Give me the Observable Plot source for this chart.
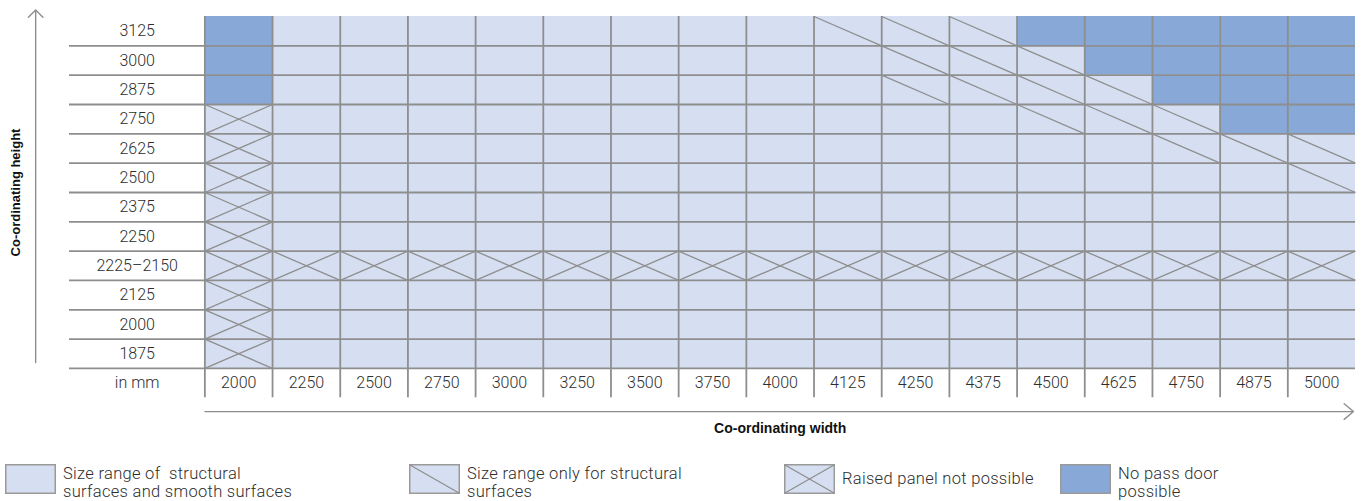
<!DOCTYPE html>
<html>
<head>
<meta charset="utf-8">
<script src="https://cdn.jsdelivr.net/npm/d3@7"></script>
<script src="https://cdn.jsdelivr.net/npm/@observablehq/plot@0.6"></script>
<style>
  html, body { margin: 0; padding: 0; background: #fff; }
  #wrap { width: 1361px; height: 501px; position: relative; overflow: hidden; }
  #legend { position: absolute; left: 0; top: 0; width: 1361px; height: 501px; pointer-events: none; }
  .sw { position: absolute; }
  .lab { position: absolute; font-family: Roboto, "Open Sans", sans-serif; font-weight: 300; font-size: 16.5px; letter-spacing: 0.3px; line-height: 18px; color: #2e2e2e; white-space: pre; }
</style>
</head>
<body>
<div id="wrap"><div id="chart"></div><div id="legend"></div></div>
<script>
// ---- data ----
const columns = ["2000","2250","2500","2750","3000","3250","3500","3750","4000","4125","4250","4375","4500","4625","4750","4875","5000"];
const rows = ["3125","3000","2875","2750","2625","2500","2375","2250","2225–2150","2125","2000","1875"];
const cornerLabel = "in mm";
const xTitle = "Co-ordinating width";
const yTitle = "Co-ordinating height";

// cells where no pass door is possible
const noPassDoorCells = [
  ["2000","3125"],["2000","3000"],["2000","2875"],
  ["4500","3125"],
  ["4625","3125"],["4625","3000"],
  ["4750","3125"],["4750","3000"],["4750","2875"],
  ["4875","3125"],["4875","3000"],["4875","2875"],["4875","2750"],
  ["5000","3125"],["5000","3000"],["5000","2875"],["5000","2750"]
];
// raised panel not possible: width 2000 for these heights, and the whole 2225–2150 row
const raisedPanelColumn2000 = ["2750","2625","2500","2375","2250","2225–2150","2125","2000","1875"];
const raisedPanelRow = "2225–2150";
// size range only for structural surfaces
const structuralOnlyCells = [
  ["4125","3125"],["4250","3125"],["4375","3125"],
  ["4250","3000"],["4375","3000"],["4500","3000"],
  ["4250","2875"],["4375","2875"],["4500","2875"],["4625","2875"],
  ["4500","2750"],["4625","2750"],["4750","2750"],
  ["4750","2625"],["4875","2625"],["5000","2625"],
  ["5000","2500"]
];

const legendLabels = [
  "Size range of  structural\nsurfaces and smooth surfaces",
  "Size range only for structural\nsurfaces",
  "Raised panel not possible",
  "No pass door\npossible"
];

// ---- styles ----
const LIGHT = "#d6dff2";
const DARK = "#88a8d8";
const GRID = "#8e8e8e";
const TEXT = "#2e2e2e";
const FONT = "Roboto, 'Open Sans', sans-serif";

// ---- derived tables ----
const ci = c => columns.indexOf(c);
const ri = r => rows.indexOf(r);
const darkSet = new Set(noPassDoorCells.map(d => d.join("|")));
const cells = [];
rows.forEach((r, j) => columns.forEach((c, i) => cells.push({i, j, dark: darkSet.has(c + "|" + r)})));

const raisedSet = new Set();
raisedPanelColumn2000.forEach(r => raisedSet.add("2000|" + r));
columns.forEach(c => raisedSet.add(c + "|" + raisedPanelRow));
const raised = [...raisedSet].map(k => { const [c, r] = k.split("|"); return {i: ci(c), j: ri(r)}; });
const crossLinks = raised.flatMap(d => [
  {x1: d.i, y1: d.j, x2: d.i + 1, y2: d.j + 1},
  {x1: d.i, y1: d.j + 1, x2: d.i + 1, y2: d.j}
]);
const structLinks = structuralOnlyCells.map(([c, r]) => ({x1: ci(c), y1: ri(r), x2: ci(c) + 1, y2: ri(r) + 1}));

const nC = columns.length, nR = rows.length;
const hLines = d3.range(1, nR + 1).map(j => ({x1: -2, x2: nC, y: j}));
const vLines = d3.range(0, nC).map(i => ({x: i, y1: 0, y2: nR + 1}));

const tickStyle = {fontSize: 16, fontWeight: 300, fontFamily: FONT, fill: TEXT, letterSpacing: "0.3px"};

const chart = Plot.plot({
  width: 1361,
  height: 450,
  marginTop: 0, marginBottom: 0, marginLeft: 0, marginRight: 0,
  x: {domain: [-2, nC], range: [69, 1355], axis: null},
  y: {domain: [0, nR + 1], range: [16, 16 + 29.33 * (nR + 1)], axis: null},
  style: {background: "transparent", overflow: "visible"},
  marks: [
    Plot.rect(cells, {x1: "i", x2: d => d.i + 1, y1: "j", y2: d => d.j + 1, fill: d => d.dark ? DARK : LIGHT, inset: 0}),
    Plot.link(crossLinks, {x1: "x1", y1: "y1", x2: "x2", y2: "y2", stroke: GRID, strokeWidth: 1.3}),
    Plot.link(structLinks, {x1: "x1", y1: "y1", x2: "x2", y2: "y2", stroke: GRID, strokeWidth: 1.3}),
    Plot.ruleY(hLines, {y: "y", x1: "x1", x2: "x2", stroke: GRID, strokeWidth: 1.8}),
    Plot.ruleX(vLines, {x: "x", y1: "y1", y2: "y2", stroke: GRID, strokeWidth: 1.8}),
    Plot.text(rows, {x: () => -1, y: (d, j) => j + 0.5, text: d => d, ...tickStyle}),
    Plot.text(columns, {x: (d, i) => i + 0.5, y: () => nR + 0.5, text: d => d, ...tickStyle}),
    Plot.text([cornerLabel], {x: () => -1, y: () => nR + 0.5, text: d => d, ...tickStyle}),
    Plot.arrow([0], {x1: () => -2.5, y1: () => 11.8, x2: () => -2.5, y2: () => -0.22, stroke: "#8e8e8e", strokeWidth: 1.4, headLength: 11, headAngle: 90}),
    Plot.arrow([0], {x1: () => 0, y1: () => nR + 1.47, x2: () => nC - 0.03, y2: () => nR + 1.47, stroke: "#8e8e8e", strokeWidth: 1.4, headLength: 13, headAngle: 80}),
    Plot.text([xTitle], {x: () => nC / 2, y: () => nR + 2.05, text: d => d, fontSize: 14, fontWeight: "bold", fontFamily: "'Liberation Sans', Arial, sans-serif", fill: "#111"}),
    Plot.text([yTitle], {x: () => -2.8, y: () => nR / 2, rotate: -90, text: d => d, fontSize: 13, fontWeight: "bold", fontFamily: "'Liberation Sans', Arial, sans-serif", fill: "#111"})
  ]
});
document.getElementById("chart").appendChild(chart);

// ---- legend ----
const swatchKinds = ["plain", "diag", "cross", "dark"];
const swatchX = [5, 409, 784, 1060];
const legend = document.getElementById("legend");
legendLabels.forEach((label, k) => {
  const kind = swatchKinds[k];
  const w = 51, h = 30, top = 464;
  const fill = kind === "dark" ? DARK : LIGHT;
  let lines = "";
  if (kind === "diag" || kind === "cross") lines += `<line x1="1" y1="1" x2="${w-1}" y2="${h-1}" stroke="${GRID}" stroke-width="1.3"/>`;
  if (kind === "cross") lines += `<line x1="1" y1="${h-1}" x2="${w-1}" y2="1" stroke="${GRID}" stroke-width="1.3"/>`;
  const sw = document.createElement("div");
  sw.className = "sw";
  sw.style.left = swatchX[k] + "px";
  sw.style.top = top + "px";
  sw.innerHTML = `<svg width="${w}" height="${h}"><rect x="0.75" y="0.75" width="${w-1.5}" height="${h-1.5}" fill="${fill}" stroke="#9a9a9a" stroke-width="1.5"/>${lines}</svg>`;
  legend.appendChild(sw);
  const lab = document.createElement("div");
  lab.className = "lab";
  lab.textContent = label;
  lab.style.left = (swatchX[k] + w + 7) + "px";
  const nLines = label.split("\n").length;
  lab.style.top = (nLines === 1 ? top + 6 : top + 1) + "px";
  legend.appendChild(lab);
});
</script>
</body>
</html>
